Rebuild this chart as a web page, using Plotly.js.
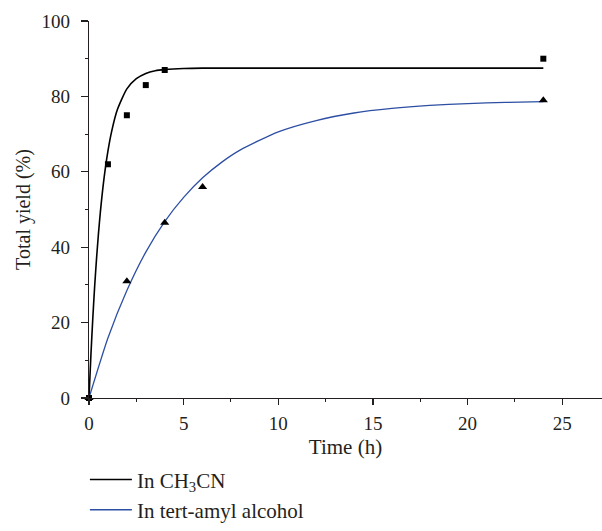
<!DOCTYPE html>
<html>
<head>
<meta charset="utf-8">
<script src="https://cdn.plot.ly/plotly-3.0.1.min.js"></script>
<style>html,body{margin:0;padding:0;background:#fff}#chart{width:602px;height:531px}</style>
</head>
<body>
<div id="chart"></div>
<script>
// measured points
var timeCH3CN = [0, 1, 2, 3, 4, 24];
var yieldCH3CN = [0, 62, 75, 83, 87, 90];
var timeAmyl = [0, 2, 4, 6, 24];
var yieldAmyl = [0, 31, 46.5, 56, 79];
// fitted curves
var curveTimeCH3CN = [0, 0.1, 0.2, 0.3, 0.4, 0.5, 0.6, 0.8, 1.0, 1.2, 1.5, 2, 2.5, 3, 3.5, 4, 5, 6, 8, 24];
var curveYieldCH3CN = [0, 11.3, 21.1, 29.7, 37.1, 43.6, 49.3, 58.5, 65.5, 70.8, 76.5, 82.0, 84.7, 86.1, 86.8, 87.1, 87.4, 87.5, 87.5, 87.5];
var curveTimeAmyl = [0, 1, 2, 3, 4, 5, 6, 7, 8, 10, 12, 14, 16, 18, 20, 22, 24];
var curveYieldAmyl = [0, 15.9, 28.5, 38.7, 46.8, 53.2, 58.4, 62.5, 65.8, 70.6, 73.6, 75.6, 76.8, 77.6, 78.1, 78.4, 78.6];
var legendNames = ['In CH<sub>3</sub>CN', 'In tert-amyl alcohol'];

var FONT = 'Liberation Serif, Times New Roman, serif';
var TXT = '#231f20';

var traces = [
  {x: curveTimeCH3CN, y: curveYieldCH3CN, mode: 'lines', line: {color: '#000000', width: 1.6, shape: 'spline', smoothing: 0.6}, name: legendNames[0], cliponaxis: false},
  {x: curveTimeAmyl, y: curveYieldAmyl, mode: 'lines', line: {color: '#2d4fa3', width: 1.3, shape: 'spline', smoothing: 0.6}, name: legendNames[1], cliponaxis: false},
  {x: timeCH3CN, y: yieldCH3CN, mode: 'markers', marker: {symbol: 'square', size: 6, color: '#000'}, showlegend: false, cliponaxis: false},
  {x: timeAmyl, y: yieldAmyl, mode: 'markers', marker: {symbol: 'triangle-up', size: 8, color: '#000'}, showlegend: false, cliponaxis: false}
];

var layout = {
  width: 602, height: 531,
  margin: {l: 89, r: 0, t: 21, b: 133},
  paper_bgcolor: '#fff', plot_bgcolor: '#fff',
  font: {family: FONT, size: 19, color: TXT},
  showlegend: true,
  legend: {xref: 'paper', x: -0.008, xanchor: 'left', yref: 'container', y: 0.135, yanchor: 'top', bgcolor: 'rgba(0,0,0,0)', itemwidth: 42, font: {family: FONT, size: 21, color: TXT}, tracegroupgap: 0},
  xaxis: {
    range: [0, 27.1], showgrid: false, zeroline: false, automargin: false,
    showline: true, linecolor: '#231f20', linewidth: 1.3,
    ticks: 'outside', ticklen: 6, tickwidth: 1.2, tickcolor: '#231f20',
    tick0: 0, dtick: 5, ticklabelstandoff: 2,
    minor: {dtick: 2.5, ticks: 'outside', ticklen: 3, tickwidth: 1, tickcolor: '#231f20'},
    tickfont: {family: FONT, size: 19, color: TXT},
    title: {text: 'Time (h)', font: {family: FONT, size: 21, color: TXT}, standoff: 10}
  },
  yaxis: {
    range: [0, 100], showgrid: false, zeroline: false, automargin: false,
    showline: true, linecolor: '#231f20', linewidth: 1.3,
    ticks: 'outside', ticklen: 7, tickwidth: 1.2, tickcolor: '#231f20',
    tick0: 0, dtick: 20, ticklabelstandoff: 7,
    minor: {dtick: 10, ticks: 'outside', ticklen: 3, tickwidth: 1, tickcolor: '#231f20'},
    tickfont: {family: FONT, size: 19, color: TXT},
    title: {text: 'Total yield (%)', font: {family: FONT, size: 20, color: TXT}, standoff: 5}
  }
};

Plotly.newPlot('chart', traces, layout, {displayModeBar: false, staticPlot: true});
</script>
</body>
</html>
